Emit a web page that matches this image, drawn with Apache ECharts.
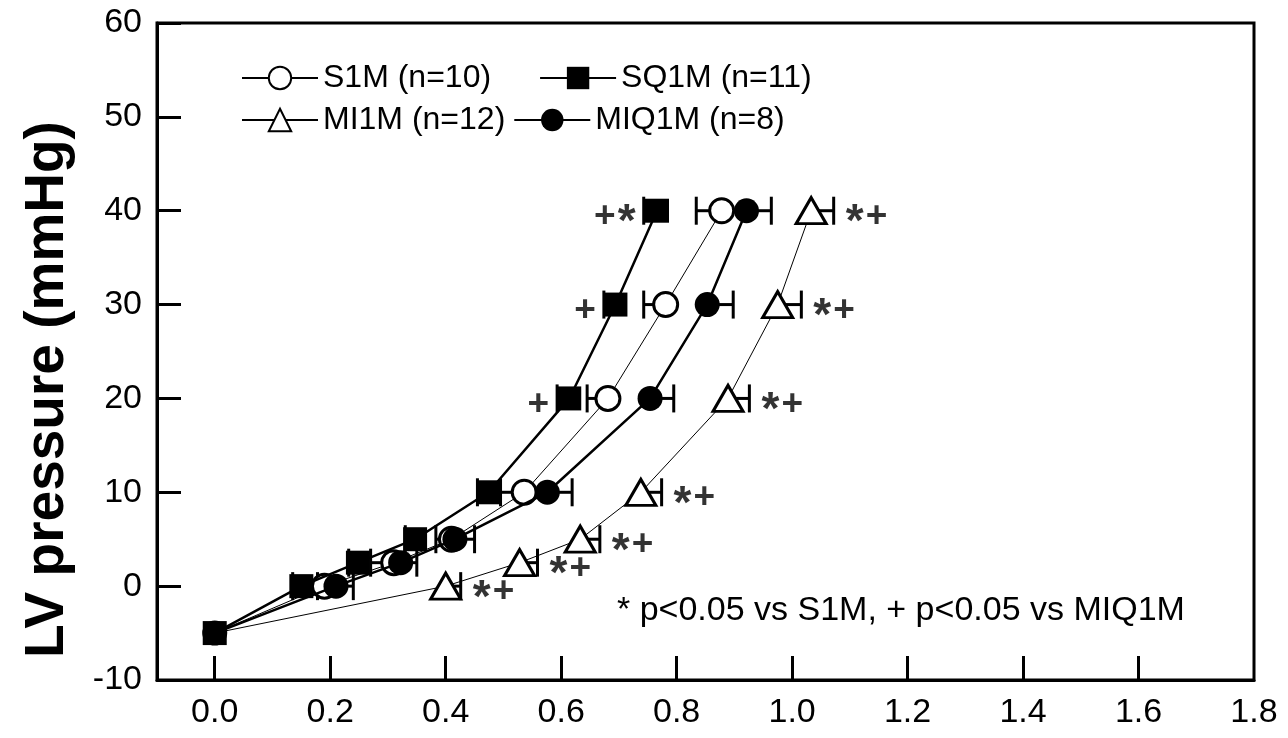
<!DOCTYPE html>
<html>
<head>
<meta charset="utf-8">
<script src="https://cdn.jsdelivr.net/npm/echarts@6/dist/echarts.min.js"></script>
<style>
html,body{margin:0;padding:0;background:#fff;}
#chart{width:1288px;height:738px;}
</style>
</head>
<body>
<div id="chart"></div>
<script>
// ---- data ----
const pressure    = [-5, 0, 2.5, 5, 10, 20, 30, 40];
const s1mVol      = [0, 0.190, 0.310, 0.410, 0.536, 0.681, 0.781, 0.878];
const s1mErrEnd   = [null, 0.178, 0.270, 0.383, 0.495, 0.645, 0.743, 0.834];
const sq1mVol     = [0, 0.150, 0.248, 0.347, 0.474, 0.614, 0.694, 0.766];
const sq1mErrEnd  = [null, 0.135, 0.232, 0.330, 0.455, 0.593, 0.674, 0.743];
const mi1mVol     = [0, 0.400, 0.528, 0.633, 0.738, 0.889, 0.975, 1.033];
const mi1mErrEnd  = [null, 0.426, 0.559, 0.667, 0.774, 0.926, 1.016, 1.072];
const miq1mVol    = [0, 0.210, 0.322, 0.416, 0.576, 0.754, 0.853, 0.921];
const miq1mErrEnd = [null, 0.240, 0.350, 0.450, 0.619, 0.795, 0.898, 0.964];
const mi1mSig     = ['', '*+', '*+', '*+', '*+', '*+', '*+', '*+'];
const sq1mSig     = ['', '', '', '', '', '+', '+', '+*'];
const xTickLabels = [0.0, 0.2, 0.4, 0.6, 0.8, 1.0, 1.2, 1.4, 1.6, 1.8];
const seriesNames = ['S1M (n=10)', 'SQ1M (n=11)', 'MI1M (n=12)', 'MIQ1M (n=8)'];
const footnote = '* p<0.05 vs S1M, + p<0.05 vs MIQ1M';

const FONT = 'Liberation Sans, Arial, sans-serif';
const CHAR_W = { '*': 20, '+': 21 };
const CHAR_DY = { '*': 13, '+': 6 };
const CHAR_SIZE = { '*': 46, '+': 37 };

function pts(xs, hideFirst) {
  return xs.map((x, i) => (hideFirst && i === 0) ? { value: [x, pressure[i]], symbol: 'none' } : [x, pressure[i]]);
}
function errData(xs, ends) {
  const out = [];
  xs.forEach((x, i) => { if (ends[i] != null) out.push([x, pressure[i], ends[i]]); });
  return out;
}
// one label per significance character, placed after (right) or before (left) the error cap
function sigSeries(ends, sig, side, baseGap) {
  const data = [];
  sig.forEach((s, i) => {
    if (!s) return;
    const chars = side === 'right' ? s.split('') : s.split('').reverse();
    let gap = baseGap;
    chars.forEach(c => {
      data.push({
        value: [ends[i], pressure[i]],
        label: { distance: gap, offset: [0, CHAR_DY[c]], fontSize: CHAR_SIZE[c], formatter: c }
      });
      gap += CHAR_W[c];
    });
  });
  return {
    type: 'scatter', data, symbolSize: 0, silent: true, z: 6,
    label: { show: true, position: side, fontFamily: FONT, fontSize: 37, fontWeight: 'bold', color: '#000' }
  };
}
function errRender(params, api) {
  const y = api.value(1);
  const p0 = api.coord([api.value(0), y]);
  const p1 = api.coord([api.value(2), y]);
  return {
    type: 'group',
    children: [
      { type: 'line', shape: { x1: p0[0], y1: p0[1], x2: p1[0], y2: p1[1] }, style: { stroke: '#000', lineWidth: 3 } },
      { type: 'line', shape: { x1: p1[0], y1: p1[1] - 14, x2: p1[0], y2: p1[1] + 14 }, style: { stroke: '#000', lineWidth: 3 } }
    ]
  };
}
function errSeries(xs, ends) {
  return {
    type: 'custom', renderItem: errRender, data: errData(xs, ends),
    encode: { x: [0, 2], y: 1 }, z: 2, silent: true
  };
}

const chart = echarts.init(document.getElementById('chart'), null, { renderer: 'canvas' });
chart.setOption({
  animation: false,
  backgroundColor: '#fff',
  grid: { left: 157, right: 34, top: 23, bottom: 58, show: true, borderColor: '#000', borderWidth: 3, backgroundColor: 'transparent' },
  title: {
    text: footnote, left: 612, top: 589,
    textStyle: { fontFamily: FONT, fontSize: 34, fontWeight: 'normal', color: '#000' }
  },
  legend: [
    {
      data: [seriesNames[0], seriesNames[1]], left: 236, top: 57, itemWidth: 76, itemHeight: 28, itemGap: 48,
      textStyle: { fontFamily: FONT, fontSize: 32, color: '#000' }, selectedMode: false
    },
    {
      data: [seriesNames[2], seriesNames[3]], left: 236, top: 99, itemWidth: 76, itemHeight: 28, itemGap: 8,
      textStyle: { fontFamily: FONT, fontSize: 32, color: '#000' }, selectedMode: false
    }
  ],
  xAxis: {
    type: 'value', min: -0.1, max: 1.8, interval: 0.1,
    axisLine: { show: true, onZero: false, lineStyle: { color: '#000', width: 3 } },
    axisTick: { show: true, inside: true, length: 24, lineStyle: { color: '#000', width: 3 }, customValues: xTickLabels.slice(0, 9) },
    axisLabel: { customValues: xTickLabels, formatter: v => v.toFixed(1), margin: 16, fontFamily: FONT, fontSize: 34, color: '#000' },
    splitLine: { show: false }
  },
  yAxis: {
    type: 'value', min: -10, max: 60, interval: 10,
    name: 'LV pressure (mmHg)', nameLocation: 'middle', nameGap: 82,
    nameTextStyle: { fontFamily: FONT, fontSize: 55, fontWeight: 'bold', color: '#000', padding: [0, 76, 0, 0] },
    axisLine: { show: true, onZero: false, lineStyle: { color: '#000', width: 3 } },
    axisTick: { show: true, inside: true, length: 24, lineStyle: { color: '#000', width: 3 } },
    axisLabel: { margin: 15, fontFamily: FONT, fontSize: 34, color: '#000' },
    splitLine: { show: false }
  },
  series: [
    errSeries(mi1mVol, mi1mErrEnd),
    errSeries(s1mVol, s1mErrEnd),
    errSeries(miq1mVol, miq1mErrEnd),
    errSeries(sq1mVol, sq1mErrEnd),
    {
      name: seriesNames[2], type: 'line', data: pts(mi1mVol, true), z: 3,
      symbol: 'triangle', symbolSize: [30, 26], showAllSymbol: true,
      lineStyle: { color: '#000', width: 1 },
      itemStyle: { color: '#fff', borderColor: '#000', borderWidth: 3 }
    },
    {
      name: seriesNames[0], type: 'line', data: pts(s1mVol, true), z: 3,
      symbol: 'circle', symbolSize: 24, showAllSymbol: true,
      lineStyle: { color: '#000', width: 1 },
      itemStyle: { color: '#fff', borderColor: '#000', borderWidth: 3 }
    },
    {
      name: seriesNames[3], type: 'line', data: pts(miq1mVol, false), z: 4,
      symbol: 'circle', symbolSize: 25, showAllSymbol: true,
      lineStyle: { color: '#000', width: 2.5 },
      itemStyle: { color: '#000', borderColor: '#000', borderWidth: 0 }
    },
    {
      name: seriesNames[1], type: 'line', data: pts(sq1mVol, false), z: 5,
      symbol: 'rect', symbolSize: 24, showAllSymbol: true,
      lineStyle: { color: '#000', width: 2.5 },
      itemStyle: { color: '#000', borderColor: '#000', borderWidth: 0 }
    },
    sigSeries(mi1mErrEnd, mi1mSig, 'right', 12),
    sigSeries(sq1mErrEnd, sq1mSig, 'left', 8)
  ]
});
</script>
</body>
</html>
